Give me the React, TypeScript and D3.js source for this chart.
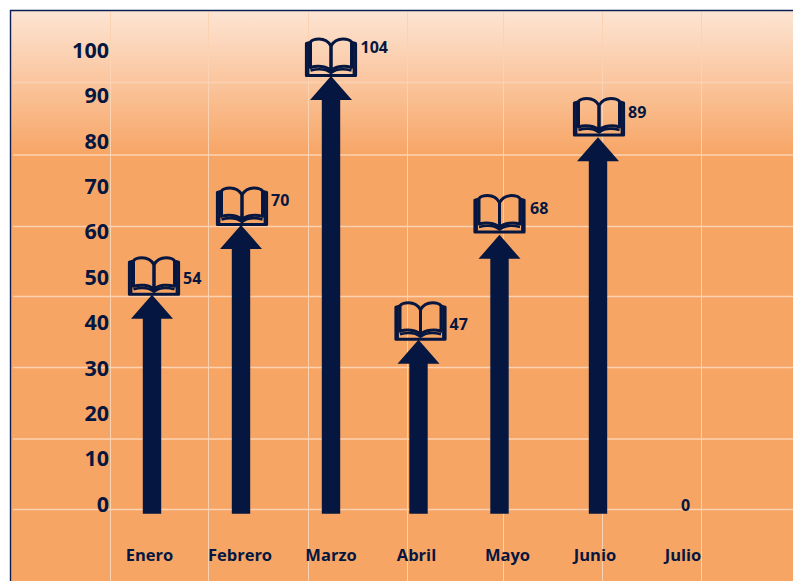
import React from "react";
import * as d3 from "d3";

const categories = ["Enero", "Febrero", "Marzo", "Abril", "Mayo", "Junio", "Julio"];
const labelValues = [54, 70, 104, 47, 68, 89, 0];
// Levels the picture actually gives each mark, read against the axis
const arrowLevels = [46.3, 61.7, 94.5, 36.4, 59.5, 81.0];
const bookLevels = [46.3, 61.7, 94.5, 36.4, 60.0, 81.4];
const labelLevels = [50.0, 67.2, 100.9, 39.9, 65.4, 86.6, 0];
const arrowBaseLevel = -1.9;
const axisTicks = [0, 10, 20, 30, 40, 50, 60, 70, 80, 90, 100];
const gridRows = [0, 1, 2, 3, 4, 5, 6];
const gridCols = [0, 1, 2, 3, 4, 5, 6];

const W = 793;
const H = 581;
const NAVY = "#051740";
const FONT = "'Open Sans', sans-serif";

const y = d3.scaleLinear().domain([0, 100]).range([505, 51]);
const arrowX = d3.scaleOrdinal<string, number>().domain(categories).range([152, 241, 331, 418.5, 499.5, 598]);
const bookX = d3.scaleOrdinal<string, number>().domain(categories).range([154, 242, 331, 420.5, 499.5, 599]);
const labelX = d3.scaleOrdinal<string, number>().domain(categories).range([183, 271, 360.5, 449.5, 530, 628, 681]);
const nameX = d3.scaleOrdinal<string, number>().domain(categories).range([149.5, 240, 331, 416.5, 507.5, 595, 683]);
const gridY = d3.scaleOrdinal<number, number>().domain(gridRows).range([509.5, 439, 367.5, 296.5, 226.5, 155, 82.5]);
const gridX = d3.scaleOrdinal<number, number>().domain(gridCols).range([110.5, 208.5, 308.5, 407.5, 503.5, 602.5, 701.5]);

const pagePath =
  "M0,-31 C-3,-36.5 -8,-38 -12,-38 C-16,-38 -19,-37 -20.5,-35 L-20.5,-9.5 C-14,-11.5 -5,-11 0,-6.5 L0,-31";
const layerPath = "M-20.5,-6.5 C-13,-8.5 -5,-8 0,-4 C5,-8 13,-8.5 20.5,-6.5";
const coverPath =
  "M-21,-34.5 L-24.6,-33.5 L-24.6,-1.5 L24.6,-1.5 L24.6,-33.5 L21,-34.5";

function Book({ x, yTip }: { x: number; yTip: number }) {
  return (
    <g transform={`translate(${x},${yTip})`} fill="none" stroke={NAVY} strokeLinejoin="round">
      <path d={pagePath} strokeWidth={3} />
      <path d={pagePath} strokeWidth={3} transform="scale(-1,1)" />
      <path d={coverPath} strokeWidth={3} />
      <path d="M-22.6,-33 L-22.6,-2 M22.6,-33 L22.6,-2" strokeWidth={2} />
      <path d={layerPath} strokeWidth={2.6} />
    </g>
  );
}

function Arrow({ x, yTip, yBase }: { x: number; yTip: number; yBase: number }) {
  const shaft = 9.2;
  const head = 21;
  const headH = 24;
  const line = d3.line();
  const pts: [number, number][] = [
    [x, yTip],
    [x + head, yTip + headH],
    [x + shaft, yTip + headH],
    [x + shaft, yBase],
    [x - shaft, yBase],
    [x - shaft, yTip + headH],
    [x - head, yTip + headH],
  ];
  return <path d={line(pts) + "Z"} fill={NAVY} />;
}

export default function App() {
  return (
    <svg
      width={W}
      height={H}
      viewBox={`0 0 ${W} ${H}`}
      style={{ position: "absolute", left: 0, top: 0, display: "block", background: "#fff" }}
    >
      <defs>
        <linearGradient id="bg" x1="0" y1="12" x2="0" y2="155" gradientUnits="userSpaceOnUse">
          <stop offset="0" stopColor="#fde4d3" />
          <stop offset="1" stopColor="#f7a565" />
        </linearGradient>
      </defs>
      <rect x={11} y={10.5} width={W - 11} height={H - 10.5} fill="url(#bg)" />
      <path d={`M10.5,${H} L10.5,10.5 L${W},10.5`} fill="none" stroke="#0b1f52" strokeWidth={1.4} />

      {gridRows.map((r) => (
        <line key={r} x1={13} x2={W} y1={gridY(r)} y2={gridY(r)} stroke="#fbd3b3" strokeWidth={1.4} />
      ))}
      {gridCols.map((c) => (
        <line key={c} x1={gridX(c)} x2={gridX(c)} y1={12} y2={H} stroke="#fbd3b3" strokeWidth={1} />
      ))}

      {axisTicks.map((t) => (
        <text
          key={t}
          x={109}
          y={y(t) - 1}
          dy="0.36em"
          textAnchor="end"
          fontFamily={FONT}
          fontWeight={700}
          fontSize={21.5}
          fill={NAVY}
        >
          {t}
        </text>
      ))}

      {arrowLevels.map((v, i) => (
        <Arrow key={i} x={arrowX(categories[i])} yTip={y(v)} yBase={y(arrowBaseLevel)} />
      ))}
      {bookLevels.map((v, i) => (
        <Book key={i} x={bookX(categories[i])} yTip={y(v) + 1} />
      ))}

      {labelValues.map((v, i) => (
        <text
          key={i}
          x={labelX(categories[i])}
          y={y(labelLevels[i])}
          dy="0.36em"
          textAnchor="start"
          fontFamily={FONT}
          fontWeight={700}
          fontSize={16}
          fill={NAVY}
        >
          {v}
        </text>
      ))}

      {categories.map((c) => (
        <text
          key={c}
          x={nameX(c)}
          y={555}
          dy="0.36em"
          textAnchor="middle"
          fontFamily={FONT}
          fontWeight={700}
          fontSize={16.5}
          fill={NAVY}
        >
          {c}
        </text>
      ))}
    </svg>
  );
}
